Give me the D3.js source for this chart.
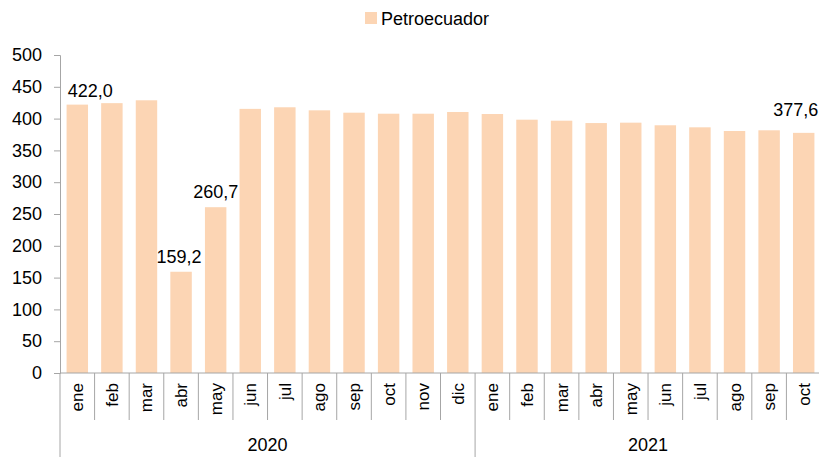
<!DOCTYPE html>
<html>
<head>
<meta charset="utf-8">
<script src="https://cdn.jsdelivr.net/npm/d3@7"></script>
<style>
  body { margin: 0; background: #fff; }
  text { font-family: "Liberation Sans", Arial, sans-serif; fill: #000; }
</style>
</head>
<body>
<div id="chart-area"></div>
<script>
// Data
let months = ["ene","feb","mar","abr","may","jun","jul","ago","sep","oct","nov","dic",
              "ene","feb","mar","abr","may","jun","jul","ago","sep","oct"];
let years = ["2020", "2021"];
let yearCounts = [12, 10];
let values = [422.0, 424.3, 428.8, 159.2, 260.7, 415.3, 417.8, 413.0, 409.3, 407.7, 407.7, 410.4,
              407.2, 398.3, 396.7, 393.0, 393.6, 389.5, 386.3, 380.5, 381.6, 377.6];
let labelIndex = [0, 3, 4, 21];
let yTicks = [0, 50, 100, 150, 200, 250, 300, 350, 400, 450, 500];
let seriesName = "Petroecuador";

// SVG drawing area
let width = 819, height = 457;
let svg = d3.select("#chart-area").append("svg")
    .attr("width", width)
    .attr("height", height);

let x = d3.scaleBand()
    .domain(d3.range(values.length))
    .range([60, 821])
    .paddingInner(0.38)
    .paddingOuter(0.19);
let step = x.step();
let y = d3.scaleLinear()
    .domain([0, 500])
    .range([373, 55]);

let axisColor = "#a6a6a6";

// Bars
svg.append("g")
  .selectAll("rect")
  .data(values)
  .enter()
  .append("rect")
    .attr("x", (d, i) => x(i))
    .attr("y", d => y(d))
    .attr("width", x.bandwidth())
    .attr("height", d => y(0) - y(d))
    .attr("fill", "#fcd5b4");

// Y axis
let yAxis = d3.axisLeft(y).tickValues(yTicks).tickSize(6).tickPadding(12);
let gy = svg.append("g")
    .attr("transform", "translate(60,0)")
    .call(yAxis);
gy.select(".domain").attr("stroke", axisColor);
gy.selectAll(".tick line").attr("stroke", axisColor);
gy.selectAll(".tick text")
    .style("font-size", "18px")
    .style("font-family", "Liberation Sans, Arial, sans-serif")
    .attr("fill", "#000");

// X axis line
svg.append("line")
    .attr("x1", 60).attr("x2", 821)
    .attr("y1", y(0)).attr("y2", y(0))
    .attr("stroke", axisColor);

// Month separators
let yearStarts = [0];
yearCounts.forEach((c, i) => yearStarts.push(yearStarts[i] + c));
svg.append("g")
  .selectAll("line")
  .data(d3.range(values.length + 1))
  .enter()
  .append("line")
    .attr("x1", i => 60 + i * step)
    .attr("x2", i => 60 + i * step)
    .attr("y1", y(0))
    .attr("y2", i => yearStarts.includes(i) ? 457 : 420)
    .attr("stroke", axisColor);

// Month labels
svg.append("g")
  .selectAll("text")
  .data(months)
  .enter()
  .append("text")
    .attr("transform", (d, i) => "translate(" + (x(i) + x.bandwidth() / 2 + 6) + "," + 383 + ") rotate(-90)")
    .attr("text-anchor", "end")
    .style("font-size", "17px")
    .text(d => d);

// Year labels
svg.append("g")
  .selectAll("text")
  .data(years)
  .enter()
  .append("text")
    .attr("x", (d, i) => 60 + (yearStarts[i] + yearStarts[i + 1]) / 2 * step)
    .attr("y", 451)
    .attr("text-anchor", "middle")
    .style("font-size", "18px")
    .text(d => d);

// Data labels
let labelShift = {0: [13, -8], 3: [-2, -9], 4: [0, -9], 21: [-8, -17]};
svg.append("g")
  .selectAll("text")
  .data(labelIndex)
  .enter()
  .append("text")
    .attr("x", i => x(i) + x.bandwidth() / 2 + labelShift[i][0])
    .attr("y", i => y(values[i]) + labelShift[i][1])
    .attr("text-anchor", "middle")
    .style("font-size", "18px")
    .text(i => values[i].toFixed(1).replace(".", ","));

// Legend
let legend = svg.append("g");
legend.append("rect")
    .attr("x", 365).attr("y", 12)
    .attr("width", 12).attr("height", 12)
    .attr("fill", "#fcd5b4");
legend.append("text")
    .attr("x", 381).attr("y", 25)
    .style("font-size", "18px")
    .text(seriesName);
</script>
</body>
</html>
